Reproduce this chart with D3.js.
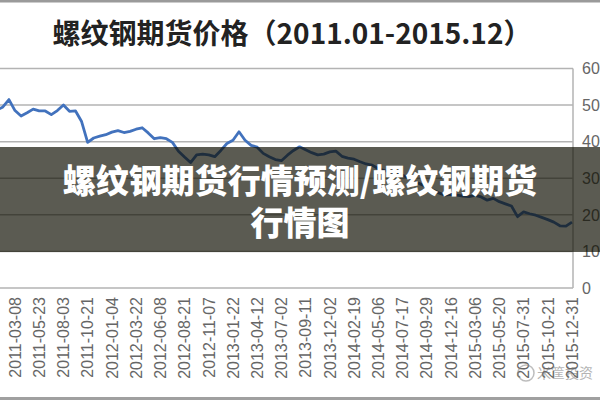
<!DOCTYPE html>
<html>
<head>
<meta charset="utf-8">
<script src="https://cdn.jsdelivr.net/npm/d3@7/dist/d3.min.js"></script>
<style>
  html, body { margin: 0; padding: 0; background: #fff; }
  svg { display: block; }
</style>
</head>
<body>
<svg id="chart" width="600" height="400"></svg>
<script>
// ---------- data ----------
const titleText = "螺纹钢期货价格（2011.01-2015.12）";
const bannerLines = ["螺纹钢期货行情预测/螺纹钢期货", "行情图"];
const dateLabels = [
  "2011-03-08","2011-05-23","2011-08-03","2011-10-21","2012-01-04","2012-03-22",
  "2012-06-08","2012-08-21","2012-11-07","2013-01-22","2013-04-12","2013-07-02",
  "2013-09-11","2013-12-02","2014-02-19","2014-05-06","2014-07-17","2014-09-29",
  "2014-12-16","2015-03-06","2015-05-20","2015-07-31","2015-10-21","2015-12-31"
];
const yTicks = [0, 10, 20, 30, 40, 50, 60];
// price (hundreds of yuan), sampled every quarter label-interval, first sample 0.75 interval before the first label
const seriesStart = -0.75;
const seriesStep = 0.25;
const prices = [
  48.6, 49.5, 51.5,
  48.5, 47.0, 47.9, 48.9,
  48.4, 48.4, 47.4, 48.5,
  50.0, 48.3, 48.4, 45.5,
  39.8, 41.0, 41.5, 41.9,
  42.6, 43.0, 42.5, 42.8,
  43.4, 43.8, 42.4, 40.8,
  41.1, 40.8, 39.8, 37.4,
  35.8, 34.3, 36.4, 36.6,
  36.4, 35.9, 37.6, 39.5,
  40.4, 42.7, 40.4, 39.0,
  38.5, 36.8, 35.9, 35.1,
  34.8, 36.3, 37.6, 38.6,
  37.8, 37.0, 36.4, 36.6,
  37.2, 37.4, 36.0, 35.5,
  35.2, 34.5, 33.9, 33.6,
  32.6, 32.1, 31.8, 31.4,
  30.8, 30.1, 29.1, 28.4,
  27.7, 26.8, 26.0, 25.4,
  25.6, 25.4, 25.1, 25.0,
  25.3, 24.9, 24.0, 24.5,
  23.6, 23.0, 22.4, 19.5,
  20.8, 20.3, 19.9, 19.3,
  18.7, 18.0, 17.0, 16.9,
  18.0
];
const watermark = "米筐投资";

// ---------- layout ----------
const svg = d3.select("#chart");
const plotRight = 573;
const x = d3.scaleLinear().domain([0, dateLabels.length - 1]).range([15, 572]);
const y = d3.scaleLinear().domain([0, 60]).range([288, 68.5]);
const gridColor = "#b3b3b3";
const labelColor = "#666";
const latin = "'Liberation Sans', Arial, sans-serif";
const cjk = "'Noto Sans CJK SC', 'Noto Sans', sans-serif";

// frame lines of the picture
svg.append("rect").attr("x", 0).attr("y", 0).attr("width", 600).attr("height", 2.5).attr("fill", "#9a9a9a");
svg.append("rect").attr("x", 0).attr("y", 397).attr("width", 600).attr("height", 3).attr("fill", "#a0a0a0");

// title
svg.append("text")
  .attr("x", 292).attr("y", 44)
  .attr("text-anchor", "middle")
  .attr("font-family", cjk)
  .attr("font-weight", 700)
  .attr("font-size", 28)
  .attr("fill", "#222")
  .text(titleText);

// gridlines
svg.append("g").selectAll("line").data(yTicks).join("line")
  .attr("x1", 0).attr("x2", plotRight)
  .attr("y1", d => y(d)).attr("y2", d => y(d))
  .attr("stroke", gridColor).attr("stroke-width", 1.5);
svg.append("line")
  .attr("x1", plotRight).attr("x2", plotRight)
  .attr("y1", y(60)).attr("y2", y(0))
  .attr("stroke", gridColor).attr("stroke-width", 1.5);

// right axis labels
svg.append("g").selectAll("text").data(yTicks).join("text")
  .attr("x", 582).attr("y", d => y(d))
  .attr("dy", "0.36em")
  .attr("font-family", latin).attr("font-size", 16)
  .attr("fill", labelColor)
  .text(d => d);

// x labels (rotated)
svg.append("g").selectAll("text").data(dateLabels).join("text")
  .attr("transform", (d, i) => `translate(${x(i)},297) rotate(-90)`)
  .attr("text-anchor", "end")
  .attr("dy", "0.36em")
  .attr("font-family", latin).attr("font-size", 16)
  .attr("fill", labelColor)
  .text(d => d);

// price line
const line = d3.line()
  .x((d, i) => x(seriesStart + i * seriesStep))
  .y(d => y(d))
  .curve(d3.curveLinear);
svg.append("path")
  .datum(prices)
  .attr("d", line)
  .attr("fill", "none")
  .attr("stroke", "#4272bd")
  .attr("stroke-width", 2.8)
  .attr("stroke-linejoin", "round");

// bottom-right watermark
const wm = svg.append("g").attr("opacity", 0.55);
wm.append("circle").attr("cx", 526).attr("cy", 373).attr("r", 8)
  .attr("fill", "none").attr("stroke", "#888").attr("stroke-width", 1.5);
wm.append("text")
  .attr("x", 537).attr("y", 378)
  .attr("font-family", cjk).attr("font-size", 14)
  .attr("fill", "#777")
  .text(watermark);

// dark banner
svg.append("rect")
  .attr("x", 0).attr("y", 147).attr("width", 600).attr("height", 105)
  .attr("fill", "rgb(14,14,0)").attr("opacity", 0.68);

svg.append("g").selectAll("text").data(bannerLines).join("text")
  .attr("x", 300)
  .attr("y", (d, i) => 193 + i * 42)
  .attr("text-anchor", "middle")
  .attr("font-family", cjk)
  .attr("font-weight", 900)
  .attr("font-size", 33)
  .attr("fill", "#fff")
  .text(d => d);
</script>
</body>
</html>
